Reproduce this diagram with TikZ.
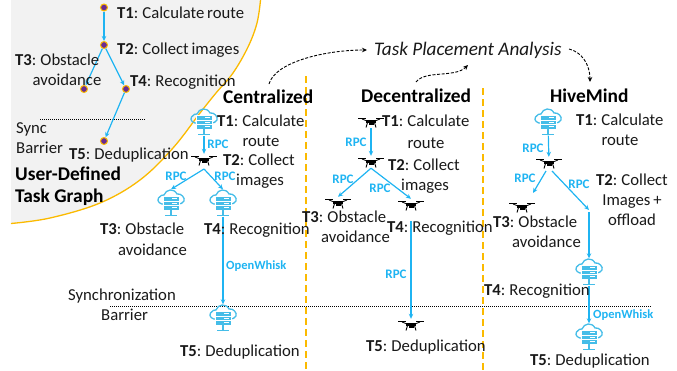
\documentclass[tikz,border=0pt]{standalone}
\usepackage{fontspec}
\setmainfont{Carlito}
\usetikzlibrary{arrows.meta}
\definecolor{skyb}{HTML}{1FB4F2}
\definecolor{srvb}{HTML}{45BDE8}
\definecolor{orng}{HTML}{FBBA00}
\definecolor{greyfill}{HTML}{F2F2F2}
\definecolor{purp}{HTML}{6A2C91}
\newcommand{\lblfont}{\fontsize{16.7}{18}\selectfont\spaceskip 2.8pt\relax}
\tikzset{
  lbl/.style={anchor=west,inner sep=0pt,font=\lblfont,text=black!90,text height=11.5pt,text depth=3pt},
  ctr/.style={lbl,anchor=center},
  ttl/.style={anchor=west,inner sep=0pt,font=\fontsize{19.4}{20}\selectfont\bfseries,text=black,text height=13pt,text depth=3.5pt},
  rpc/.style={inner sep=0pt,font=\fontsize{13}{14}\selectfont\bfseries,text=skyb},
  owk/.style={rpc,anchor=west,font=\fontsize{12.5}{14}\selectfont\bfseries},
  flow/.style={draw=skyb,line width=1.2pt,-{Stealth[length=5pt,width=4.5pt]}},
  dagnode/.style={circle,fill=purp,draw=orng,line width=1pt,minimum size=7pt,inner sep=0pt},
  tskarrow/.style={draw=black,line width=0.9pt,dash pattern=on 3pt off 1.6pt,-{Stealth[length=5pt,width=4.5pt]}},
  vdiv/.style={draw=orng,line width=1.2pt,dash pattern=on 7pt off 4pt},
  barrier/.style={draw=black,line width=1pt,dash pattern=on 1pt off 1pt},
  srvbox/.style={inner sep=0pt,minimum width=26pt,minimum height=27pt},
  dronebox/.style={inner sep=0pt,minimum width=26pt,minimum height=12pt},
  srv/.pic={
    \draw[srvb,line width=1.3pt,line cap=round] (-6,1) .. controls (-11,2) and (-14.5,-2) .. (-12.5,-5)
      .. controls (-11,-7.5) and (-8,-8.5) .. (-7,-8) .. controls (-5,-14) and (3,-15) .. (6,-9)
      .. controls (10,-10) and (14.5,-5) .. (13,-2) .. controls (12,0.5) and (9,1) .. (7,1);
    \foreach \yy in {-6,-1.5,3}{
      \fill[white] (-8.5,\yy-0.7) rectangle (8.5,\yy+4.7);
      \fill[srvb] (-7.5,\yy) rectangle (7.5,\yy+4);
      \fill[white] (1,\yy+1.2) rectangle (6,\yy+2.2);
    }
    \draw[srvb,line width=1.2pt] (0,7) -- (0,12.5) (-6,12.8) -- (6,12.8);
  },
  drn/.pic={
    \draw[black,line width=0.6pt] (-13,-3.5) -- (-5,-3.5) (5,-3.5) -- (13,-3.5);
    \draw[black,line width=0.8pt] (-9,-3) -- (-4,-1) (9,-3) -- (4,-1);
    \fill[black] (-5,-2.2) rectangle (5,1);
    \fill[black] (-2.5,-0) rectangle (2.5,2.6);
    \draw[black,line width=0.9pt] (-3.5,0.5) -- (-5,5.5) (3.5,0.5) -- (5,5.5);
  },
}
\newcommand{\srvat}[2]{\node[srvbox] (#1) at (#2) {}; \pic at (#1) {srv};}
\newcommand{\drnat}[2]{\node[dronebox] (#1) at (#2) {}; \pic at (#1) {drn};}
\begin{document}
\begin{tikzpicture}[x=1pt,y=-1pt]
\useasboundingbox (0,0) rectangle (677,370);
% task-graph region
\fill[greyfill] (11,0) -- (260.5,0) -- plot[smooth,tension=0.6] coordinates {(260.5,0) (257,23) (248,47) (233,73) (216,93) (200,113) (173,148) (140,180) (100,203) (50,218) (11,223.5)} -- cycle;
\draw[orng,line width=1.3pt] plot[smooth,tension=0.6] coordinates {(260.5,0) (257,23) (248,47) (233,73) (216,93) (200,113) (173,148) (140,180) (100,203) (50,218) (11,223.5)};
% dividers and barriers
\draw[vdiv] (306,76) -- (306,370);
\draw[vdiv] (483,88) -- (483,370);
\draw[barrier] (40,119) -- (145,119);
\draw[barrier] (110,306) -- (652,306);
% user-defined graph
\node[dagnode] (g1) at (104,7.5) {};
\node[dagnode] (g2) at (104,45) {};
\node[dagnode] (g3) at (84,89) {};
\node[dagnode] (g4) at (126,89) {};
\node[dagnode] (g5) at (104,141) {};
\draw[flow] (g1) -- (g2);
\draw[flow] (g2) -- (g3);
\draw[flow] (g2) -- (g4);
\draw[flow] (g4) -- (g5);
\node[lbl] (gt1) at (117,14) {\textbf{T1}: Calculate route};
\node[lbl] (gt2) at (117,50) {\textbf{T2}: Collect images};
\node[lbl] (gt3) at (15,61) {\textbf{T3}: Obstacle};
\node[ctr] (gt3b) at (67,81) {avoidance};
\node[lbl] (gt4) at (130,82) {\textbf{T4}: Recognition};
\node[lbl] (gs1) at (16,129) {Sync};
\node[lbl] (gs2) at (16,149) {Barrier};
\node[lbl] (gt5) at (69,155) {\textbf{T5}: Deduplication};
\node[ttl] (gh1) at (15,176) {User-Defined};
\node[ttl] (gh2) at (15,198) {Task Graph};
% analysis
\node[lbl,font=\fontsize{19.2}{20}\selectfont\itshape] (tpa) at (374,51) {Task Placement Analysis};
% centralized
\node[ttl] (h1) at (223,99) {Centralized};
\srvat{a1}{204,122}
\drnat{a2}{204,160}
\srvat{a3}{171,203}
\srvat{a4}{223,203}
\srvat{a5}{223,318}
\draw[flow] (a1) -- (a2);
\coordinate (a2o) at (204,169);
\draw[flow] (a2o) -- (a3.north);
\draw[flow] (a2o) -- (a4.north);
\draw[flow] (a4.south) -- (a5.north);
\node[rpc] (ar1) at (218,144) {RPC};
\node[rpc] (ar2) at (176,176) {RPC};
\node[rpc] (ar3) at (225,176) {RPC};
\node[owk] (ar4) at (226,266) {OpenWhisk};
\node[lbl] (at1) at (217,122) {\textbf{T1}: Calculate};
\node[ctr] (at1b) at (261,142) {route};
\node[lbl] (at2) at (223,161) {\textbf{T2}: Collect};
\node[lbl] (at2b) at (236,181) {images};
\node[lbl] (at3) at (100,230) {\textbf{T3}: Obstacle};
\node[lbl] (at3b) at (118,251) {avoidance};
\node[lbl] (at4) at (204,230) {\textbf{T4}: Recognition};
\node[lbl] (as1) at (68,296) {Synchronization};
\node[lbl] (as2) at (101,316) {Barrier};
\node[lbl] (at5) at (180,352) {\textbf{T5}: Deduplication};
% decentralized
\node[ttl] (h2) at (361,98) {Decentralized};
\drnat{b1}{371,122}
\drnat{b2}{371,162}
\drnat{b3}{338,203}
\drnat{b4}{411,205}
\drnat{b5}{411,325}
\draw[flow] (b1) -- (b2);
\draw[flow] (b2.south) -- (b3.north);
\draw[flow] (b2.south) -- (b4.north);
\coordinate (b4o) at (411,221);
\draw[flow] (b4o) -- (b5.north);
\node[rpc] (br1) at (356,142) {RPC};
\node[rpc] (br2) at (343,179) {RPC};
\node[rpc] (br3) at (380,188) {RPC};
\node[rpc] (br4) at (396,274) {RPC};
\node[lbl] (bt1) at (382,122) {\textbf{T1}: Calculate};
\node[ctr] (bt1b) at (426,144) {route};
\node[lbl] (bt2) at (388,166) {\textbf{T2}: Collect};
\node[lbl] (bt2b) at (401,186) {images};
\node[lbl] (bt3) at (302,218) {\textbf{T3}: Obstacle};
\node[lbl] (bt3b) at (321,238) {avoidance};
\node[lbl] (bt4) at (387,228) {\textbf{T4}: Recognition};
\node[lbl] (bt5) at (366,347) {\textbf{T5}: Deduplication};
% hivemind
\node[ttl] (h3) at (550,98) {HiveMind};
\srvat{c1}{548,122}
\drnat{c2}{549,163}
\drnat{c3}{522,207}
\srvat{c4}{589,272}
\srvat{c5}{589,337}
\coordinate (c2l) at (546,171);
\coordinate (c3e) at (533,193);
\coordinate (c2r) at (552,171);
\coordinate (c2m) at (589,210);
\coordinate (c2n) at (589,212);
\draw[flow] (c1) -- (c2);
\draw[flow] (c2l) -- (c3e);
\draw[flow] (c2r) -- (c2m);
\draw[flow] (c2n) -- (c4.north);
\draw[flow] (c4.south) -- (c5.north);
\node[rpc] (cr1) at (533,148) {RPC};
\node[rpc] (cr2) at (525,178) {RPC};
\node[rpc] (cr3) at (579,184) {RPC};
\node[owk] (cr4) at (593,315) {OpenWhisk};
\node[lbl] (ct1) at (576,121) {\textbf{T1}: Calculate};
\node[ctr] (ct1b) at (620,141) {route};
\node[lbl] (ct2) at (596,181) {\textbf{T2}: Collect};
\node[ctr] (ct2b) at (632,201) {Images +};
\node[ctr] (ct2c) at (632,221) {offload};
\node[lbl] (ct3) at (493,223) {\textbf{T3}: Obstacle};
\node[lbl] (ct3b) at (512,243) {avoidance};
\node[lbl] (ct4) at (484,291) {\textbf{T4}: Recognition};
\node[lbl] (ct5) at (530,361) {\textbf{T5}: Deduplication};
% task placement arrows
\coordinate (p1) at (269,84);
\coordinate (p2) at (416,82);
\coordinate (p3) at (468,65);
\coordinate (p4) at (569,49);
\coordinate (p5) at (590,82);
\coordinate (p6) at (367,50);
\draw[tskarrow] (p1) .. controls (275,62) and (325,50) .. (p6);
\draw[tskarrow] (p2) .. controls (425,70) and (455,78) .. (p3);
\draw[tskarrow] (p4) .. controls (582,52) and (590,65) .. (p5);
\end{tikzpicture}
\end{document}
